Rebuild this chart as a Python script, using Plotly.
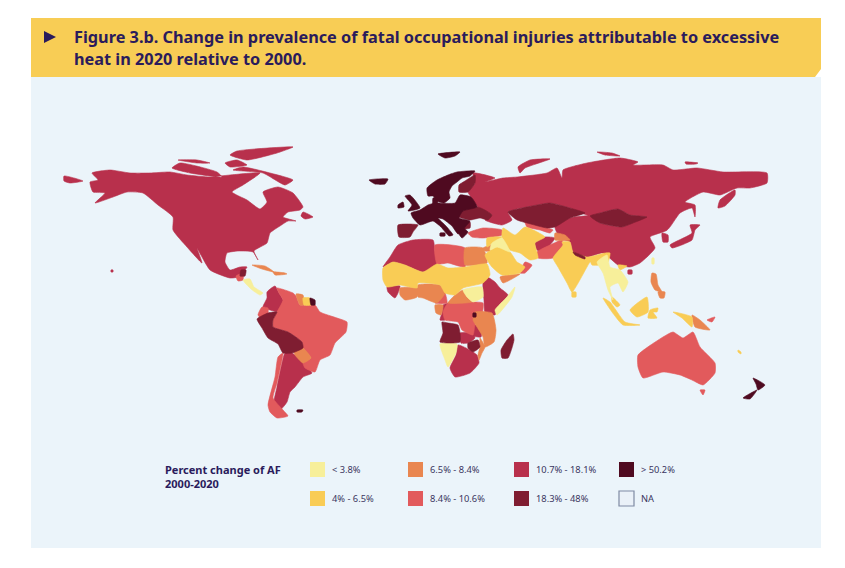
import plotly.graph_objects as go

# Plotly's world topojson cannot be loaded offline, so the land outlines below are
# approximate hand-traced polygons in its own picture units.
categories = ["< 3.8%", "4% - 6.5%", "6.5% - 8.4%", "8.4% - 10.6%", "10.7% - 18.1%", "18.3% - 48%", "> 50.2%", "NA"]
colors = ["#F7EF9A", "#F9CC55", "#E98650", "#E25A5C", "#B8304C", "#7F1D31", "#4F0A20", "#EAF1F8"]

under_3_8 = [
 [(243,280),(250,279),(254,287),(263,293),(260,295),(251,289)],
 [(463,290),(482,287),(483,297),(473,302),(467,297)],
 [(515,287),(512,297),(497,315),(495,310),(507,297)],
 [(440,344),(457,344),(456,353),(448,367),(445,360)],
 [(492,243),(502,238),(510,252),(497,247),(490,250)],
 [(597,262),(607,255),(610,267),(620,270),(628,282),(623,292),(618,283),(610,287),(613,300),(608,290),(603,273)],
 [(652,258),(654,258),(654,264),(652,264)],
]
from_4_to_6_5 = [
 [(383,268),(393,262),(405,265),(423,272),(437,264),(448,268),(465,267),(487,264),(490,275),(483,283),(463,288),(455,295),(445,293),(440,285),(418,283),(417,288),(400,285),(387,287),(383,280)],
 [(503,228),(515,235),(525,227),(545,237),(535,243),(538,258),(530,260),(520,253),(510,250),(502,237)],
 [(485,255),(497,247),(510,252),(517,262),(525,267),(520,273),(502,275),(492,267)],
 [(487,238),(502,237),(493,243),(487,247)],
 [(562,242),(570,242),(573,252),(587,257),(600,255),(590,262),(587,267),(572,292),(567,283),(558,267),(553,258),(563,245)],
 [(572,292),(576,292),(576,297),(572,297)],
 [(590,258),(605,253),(610,253),(608,262),(600,265),(592,265)],
 [(618,265),(627,266),(620,270)],
 [(612,297),(620,305),(617,307),(612,302)],
 [(603,298),(610,302),(625,322),(640,325),(623,325),(612,312)],
 [(630,310),(647,297),(648,312),(637,317)],
 [(650,310),(658,308),(657,312),(653,312),(657,318),(648,318)],
 [(673,312),(692,317),(692,327),(682,318)],
 [(303,298),(310,298),(311,305),(304,305)],
 [(738,350),(741,352),(741,354),(738,352)],
]
from_6_5_to_8_4 = [
 [(465,248),(483,248),(487,263),(465,265)],
 [(400,288),(417,288),(417,297),(405,300),(400,295)],
 [(418,285),(440,285),(445,293),(437,303),(423,298),(418,297)],
 [(455,295),(463,290),(467,297),(472,302),(448,303)],
 [(435,305),(443,305),(441,315),(436,313)],
 [(475,312),(492,313),(496,330),(494,342),(485,347),(483,337),(477,327),(473,320)],
 [(480,338),(485,347),(482,353),(479,360),(478,355),(480,347)],
 [(500,277),(520,274),(503,283)],
 [(296,294),(303,295),(304,305),(300,305)],
 [(293,348),(303,348),(311,358),(303,363),(295,355)],
 [(252,265),(265,266),(274,272),(262,269)],
 [(273,272),(285,273),(287,274),(275,275)],
 [(652,273),(656,274),(658,285),(662,292),(655,290),(651,282)],
 [(658,292),(665,292),(664,298),(660,298)],
 [(692,315),(700,320),(710,330),(695,327)],
 [(483,248),(492,245),(490,251),(485,251)],
 [(555,233),(565,235),(570,240),(555,240)],
]
from_8_4_to_10_6 = [
 [(277,288),(293,293),(296,296),(300,305),(315,305),(320,312),(337,318),(347,322),(346,332),(335,343),(330,355),(320,360),(315,372),(305,368),(303,363),(311,358),(303,348),(302,342),(288,332),(273,327),(273,320),(277,312),(283,300),(279,293)],
 [(262,307),(268,308),(268,313),(262,319),(258,315)],
 [(283,353),(282,360),(277,383),(273,398),(283,410),(288,416),(277,418),(270,412),(268,405),(275,377),(278,357)],
 [(435,245),(465,248),(465,267),(448,263),(437,264)],
 [(440,290),(445,293),(447,303),(435,303),(437,298)],
 [(448,303),(472,302),(483,303),(482,315),(475,325),(473,335),(462,330),(458,322),(445,320),(443,312)],
 [(468,233),(483,228),(502,230),(502,235),(483,238),(472,237)],
 [(525,262),(532,265),(525,273),(520,273)],
 [(537,252),(550,245),(562,240),(563,245),(553,258),(538,258)],
 [(525,222),(537,225),(553,230),(550,233),(540,230),(527,227)],
 [(638,355),(663,337),(673,332),(683,338),(693,332),(700,347),(715,363),(715,373),(703,385),(692,380),(680,375),(663,372),(643,378),(638,367)],
 [(700,390),(705,390),(703,395)],
 [(236,276),(243,273),(243,280),(238,281)],
 [(707,320),(715,317),(712,322)],
]
from_10_7_to_18_1 = [
 [(95,203),(113,197),(127,192),(143,193),(158,205),(173,217),(173,230),(187,247),(202,263),(197,248),(210,270),(230,278),(238,277),(247,267),(240,267),(230,270),(225,262),(227,253),(238,251),(253,252),(258,260),(254,251),(267,243),(270,233),(280,226),(288,221),(296,221),(283,217),(288,212),(300,210),(303,207),(293,193),(278,187),(263,192),(267,202),(260,209),(247,200),(232,192),(243,185),(260,173),(230,175),(210,177),(187,175),(170,172),(150,173),(130,173),(110,170),(92,173),(98,180),(90,182),(93,192),(105,193)],
 [(303,212),(313,217),(305,219),(301,216)],
 [(237,151),(293,147),(277,153),(247,160),(230,155)],
 [(172,168),(180,163),(217,172),(222,177),(190,173)],
 [(178,160),(197,160),(210,163),(197,163)],
 [(225,163),(237,160),(247,165),(230,167)],
 [(233,170),(243,167),(270,173),(293,180),(285,185),(263,173)],
 [(64,176),(83,181),(70,183),(64,181)],
 [(111,270),(113,270),(113,272),(111,272)],
 [(275,286),(279,293),(283,300),(280,312),(270,310),(263,307),(267,298),(267,292)],
 [(285,353),(292,353),(295,355),(303,363),(312,373),(303,377),(295,387),(290,392),(287,402),(280,410),(274,403),(277,387),(282,363)],
 [(383,267),(390,257),(398,245),(413,240),(433,240),(435,252),(437,264),(423,272),(405,265),(393,262)],
 [(387,287),(400,286),(398,293),(395,298),(388,292)],
 [(487,277),(495,282),(500,288),(508,295),(498,307),(495,315),(485,312),(484,300),(483,283)],
 [(460,333),(472,333),(475,338),(468,343),(461,343)],
 [(472,325),(482,327),(481,337),(474,336)],
 [(458,345),(468,349),(477,355),(479,363),(470,373),(455,377),(450,368),(456,355)],
 [(475,183),(473,173),(495,178),(485,182),(503,178),(517,177),(547,173),(557,168),(562,178),(563,170),(587,163),(620,158),(638,162),(633,165),(663,165),(673,170),(697,168),(723,172),(767,173),(767,183),(750,188),(737,188),(720,195),(703,192),(685,202),(695,205),(695,217),(692,208),(680,213),(667,230),(657,223),(647,217),(630,215),(618,209),(600,213),(590,216),(570,208),(550,203),(537,205),(508,212),(512,220),(502,225),(485,220),(492,215),(478,207),(471,197),(468,192)],
 [(518,167),(530,160),(550,159),(525,168),(520,173)],
 [(597,152),(612,153),(620,156),(605,155)],
 [(685,162),(698,163),(696,164),(686,164)],
 [(735,190),(720,200),(718,208),(725,206),(735,195)],
 [(555,227),(570,218),(590,216),(600,223),(622,227),(647,217),(667,230),(650,237),(655,248),(640,263),(630,267),(618,265),(603,253),(587,257),(573,252),(570,242),(560,238)],
 [(662,233),(668,235),(668,242),(663,242)],
 [(670,245),(692,233),(690,225),(700,225),(695,230),(692,240),(672,248)],
 [(628,270),(632,270),(632,274),(628,274)],
 [(535,243),(545,237),(555,238),(550,245),(542,252),(537,250)],
 [(443,305),(450,303),(448,312),(445,320),(440,320),(442,313)],
]
from_18_3_to_48 = [
 [(257,319),(268,313),(277,312),(273,320),(273,327),(288,332),(302,342),(303,348),(292,353),(283,353),(278,344),(268,338),(262,328)],
 [(241,270),(246,270),(245,276),(240,276)],
 [(475,183),(475,175),(465,181),(459,185),(459,192),(468,192)],
 [(398,225),(418,225),(413,232),(410,237),(399,237)],
 [(460,212),(478,207),(492,215),(488,220),(480,218),(470,220),(459,217)],
 [(459,225),(470,222),(470,228),(461,229)],
 [(508,212),(537,205),(550,203),(570,208),(585,213),(570,218),(555,227),(547,228),(527,223),(517,220)],
 [(590,216),(600,213),(618,209),(630,215),(647,217),(633,223),(622,227),(600,223)],
 [(442,322),(448,323),(458,325),(460,333),(460,342),(440,342),(443,333)],
 [(468,343),(478,340),(480,347),(473,352),(468,348)],
 [(513,334),(514,340),(508,358),(502,358),(501,350),(507,340)],
 [(573,252),(585,257),(585,259),(575,255)],
]
over_50_2 = [
 [(369,180),(388,179),(385,184),(375,184)],
 [(438,154),(460,152),(455,156),(445,158)],
 [(427,188),(437,180),(448,175),(457,172),(475,171),(470,176),(462,178),(457,182),(452,186),(449,192),(450,198),(444,203),(437,201),(433,196),(428,196)],
 [(433,198),(438,198),(437,205),(433,205)],
 [(405,196),(410,195),(420,208),(408,211),(412,205)],
 [(398,205),(403,202),(404,207),(398,208)],
 [(411,213),(420,210),(428,205),(435,203),(455,203),(460,195),(471,197),(477,207),(463,211),(459,218),(470,221),(466,226),(462,231),(458,234),(452,226),(443,219),(438,218),(446,226),(453,235),(449,236),(441,227),(433,221),(420,225),(413,218)],
 [(463,228),(468,232),(462,238),(458,232)],
 [(440,233),(445,233),(445,236),(440,236)],
 [(310,298),(315,300),(315,305),(311,305)],
 [(297,410),(303,410),(302,412),(297,412)],
 [(473,313),(476,313),(476,317),(473,317)],
 [(753,378),(765,385),(758,390),(756,384)],
 [(743,398),(757,390),(750,399)],
]

class_outlines = [under_3_8, from_4_to_6_5, from_6_5_to_8_4, from_8_4_to_10_6, from_10_7_to_18_1, from_18_3_to_48, over_50_2]
draw_order = [4, 3, 2, 1, 0, 5, 6]

page_w, page_h = 845, 568
panel_color = "#EBF4FA"
header_color = "#F8CD55"
ink = "#2A1B5C"

fig = go.Figure()
for i in draw_order:
    xs, ys = [], []
    for poly in class_outlines[i]:
        xs += [p[0] for p in poly] + [poly[0][0], None]
        ys += [p[1] for p in poly] + [poly[0][1], None]
    fig.add_trace(go.Scatter(x=xs, y=ys, mode="lines", fill="toself", fillcolor=colors[i],
                             line=dict(color=colors[i], width=0.6, shape="spline", smoothing=0.5),
                             name=categories[i], hoverinfo="name", showlegend=False))

shapes = [
    dict(type="rect", x0=31, x1=821, y0=77, y1=548, fillcolor=panel_color, line_width=0, layer="below"),
    dict(type="path", path="M31,18 L821,18 L821,69 L815,77 L31,77 Z", fillcolor=header_color, line_width=0, layer="below"),
    dict(type="path", path="M44,31 L56,37 L44,43 Z", fillcolor=ink, line_width=0, layer="below"),
]
annotations = [
    dict(x=72, y=37, text="<b>Figure 3.b. Change in prevalence of fatal occupational injuries attributable to excessive</b>"),
    dict(x=72, y=59, text="<b>heat in 2020 relative to 2000.</b>"),
]
for a in annotations:
    a.update(xanchor="left", yanchor="middle", showarrow=False, font=dict(family="Noto Sans", size=16.3, color=ink))
annotations.append(dict(x=163, y=476, text="<b>Percent change of AF</b><br><b>2000-2020</b>", align="left",
                        xanchor="left", yanchor="middle", showarrow=False,
                        font=dict(family="Noto Sans", size=11, color=ink)))
legend_x = [310, 310, 408, 408, 514, 514, 619, 619]
legend_y = [462, 491, 462, 491, 462, 491, 462, 491]
for i, cat in enumerate(categories):
    x, y = legend_x[i], legend_y[i]
    shapes.append(dict(type="rect", x0=x, x1=x + 15, y0=y, y1=y + 15, fillcolor=colors[i],
                       line=dict(width=1.2 if cat == "NA" else 0, color="#7F8AA3")))
    annotations.append(dict(x=x + 20, y=y + 7.5, text=cat, xanchor="left", yanchor="middle", showarrow=False,
                            font=dict(family="Noto Sans", size=9.3, color="#3A3560")))

fig.update_layout(
    width=page_w, height=page_h, margin=dict(l=0, r=0, t=0, b=0),
    paper_bgcolor="white", plot_bgcolor="white", shapes=shapes, annotations=annotations,
    xaxis=dict(range=[0, page_w], visible=False, fixedrange=True),
    yaxis=dict(range=[page_h, 0], visible=False, fixedrange=True),
)
fig.write_html("out.html", config={"displayModeBar": False},
               post_script="document.body.style.margin='0';")
